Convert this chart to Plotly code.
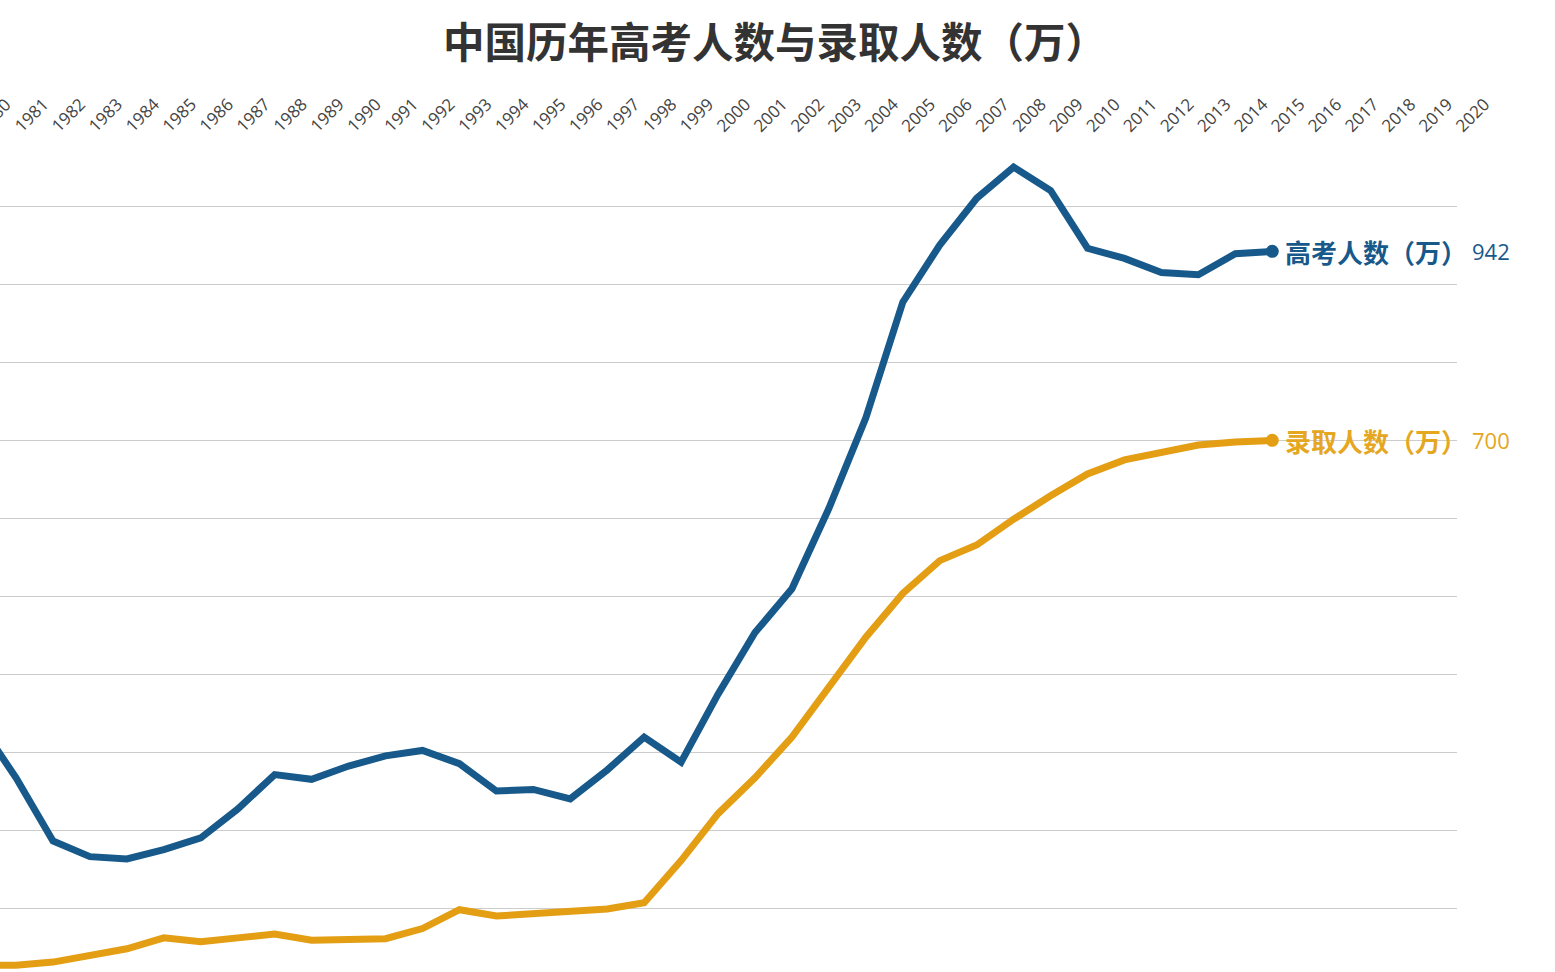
import plotly.graph_objects as go

years = list(range(1980, 2016))
applicants = [338, 268, 187, 167, 164, 176, 191, 228, 272, 266, 283, 296, 303, 286, 251, 253,
              241, 278, 320, 288, 375, 454, 510, 613, 729, 877, 950, 1010, 1050, 1020, 946, 933,
              915, 912, 939, 942]
admitted = [28, 28, 32, 40, 49, 63, 58, 63, 68, 60, 61, 62, 75, 99, 91, 94,
            97, 100, 108, 162, 222, 268, 320, 384, 448, 504, 546, 566, 599, 629, 657, 675,
            685, 694, 698, 700]
tick_years = list(range(1980, 2021))
series_names = ["高考人数（万）", "录取人数（万）"]
title_text = "中国历年高考人数与录取人数（万）"

BLUE = "#17598a"
ORANGE = "#e39e14"
ORANGE_TXT = "#e5a622"
TICK_FONT = dict(family="Open Sans", size=17, color="#444444")

fig = go.Figure()
for name, vals, col in [(series_names[0], applicants, BLUE), (series_names[1], admitted, ORANGE)]:
    fig.add_trace(go.Scatter(x=years, y=vals, mode="lines", name=name,
                             line=dict(color=col, width=7), cliponaxis=False))
    fig.add_trace(go.Scatter(x=[years[-1]], y=[vals[-1]], mode="markers",
                             marker=dict(color=col, size=13), cliponaxis=False, showlegend=False))

for name, vals, col, tcol in [(series_names[0], applicants, BLUE, BLUE),
                              (series_names[1], admitted, ORANGE, ORANGE_TXT)]:
    fig.add_annotation(x=years[-1], y=vals[-1], xref="x", yref="y", text="<b>%s</b>" % name,
                       showarrow=False, xanchor="left", yanchor="middle", xshift=11,
                       font=dict(family="Noto Sans CJK SC", size=26, color=tcol, weight=900))
    fig.add_annotation(x=years[-1], y=vals[-1], xref="x", yref="y", text=str(vals[-1]),
                       showarrow=False, xanchor="left", yanchor="middle", xshift=198,
                       font=dict(family="Open Sans", size=22, color=tcol))

# first year label, mostly cut off at the left edge (as in the reference)
fig.add_annotation(x=-0.0048, y=1.0298, xref="paper", yref="paper", text=str(tick_years[0]),
                   showarrow=False, textangle=-45, xanchor="center", yanchor="middle",
                   font=TICK_FONT)

fig.update_layout(
    width=1555, height=972,
    margin=dict(l=0, r=98, t=140, b=0),
    paper_bgcolor="white", plot_bgcolor="white",
    showlegend=False,
    title=dict(text="<b>%s</b>" % title_text, xref="container", x=775 / 1555, xanchor="center",
               yref="container", y=1 - 43 / 972, yanchor="middle",
               font=dict(family="Noto Sans CJK SC", size=41.5, color="#333333", weight=900)),
)
fig.update_xaxes(range=[1980.566, 2020], side="top", tickmode="array", tickvals=tick_years,
                 ticktext=[str(y) for y in tick_years], tickangle=-45, showgrid=False,
                 zeroline=False, showline=False, ticks="", tickfont=TICK_FONT)
fig.update_yaxes(range=[19.3, 1084.6], tickmode="linear", tick0=0, dtick=100, showgrid=True,
                 gridcolor="#cccccc", gridwidth=1, zeroline=False, showline=False,
                 showticklabels=False, ticks="")

fig.write_html("out.html", config={"displayModeBar": False},
               post_script="document.body.style.margin='0';")
